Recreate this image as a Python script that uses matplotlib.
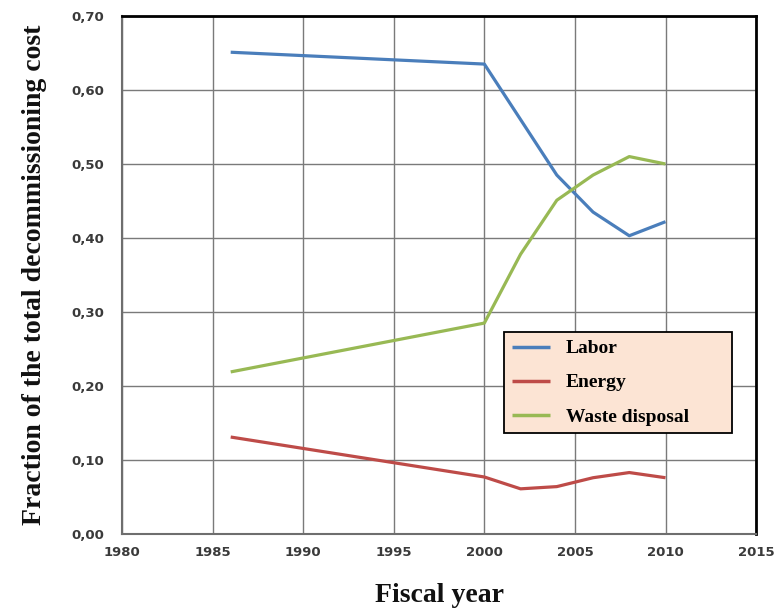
import matplotlib
matplotlib.use("Agg")
import matplotlib.pyplot as plt
from matplotlib.ticker import FuncFormatter, MultipleLocator

years = [1986, 2000, 2002, 2004, 2006, 2008, 2010]
labor = [0.651, 0.635, 0.560, 0.485, 0.435, 0.403, 0.422]
energy = [0.131, 0.077, 0.061, 0.064, 0.076, 0.083, 0.076]
waste = [0.219, 0.285, 0.378, 0.451, 0.485, 0.510, 0.500]
series_names = ["Labor", "Energy", "Waste disposal"]
colors = ["#4A7EBB", "#BE4B48", "#98B954"]

fig = plt.figure(figsize=(7.79, 6.12), dpi=100)
ax = fig.add_axes([0.1566, 0.1275, 0.814, 0.8464])

for vals, name, c in zip([labor, energy, waste], series_names, colors):
    ax.plot(years, vals, color=c, lw=2.3, label=name, solid_capstyle="butt")

ax.set_xlim(1980, 2015)
ax.set_ylim(0, 0.70)
ax.xaxis.set_major_locator(MultipleLocator(5))
ax.yaxis.set_major_locator(MultipleLocator(0.10))
ax.yaxis.set_major_formatter(FuncFormatter(lambda v, p: f"{v:.2f}".replace(".", ",")))
ax.grid(True, color="#7a7a7a", lw=1.0)
ax.set_axisbelow(True)

for s in ["left", "bottom"]:
    ax.spines[s].set_color("#6e6e6e")
    ax.spines[s].set_linewidth(1.5)
for s in ["top", "right"]:
    ax.spines[s].set_color("black")
    ax.spines[s].set_linewidth(2.0)

ax.tick_params(axis="both", length=0, labelsize=9.5, colors="#3a3a3a")
ax.tick_params(axis="y", pad=13)
ax.tick_params(axis="x", pad=9)
for lab in ax.get_xticklabels() + ax.get_yticklabels():
    lab.set_fontweight("bold")
    lab.set_family("DejaVu Sans")

ax.set_ylabel("Fraction of the total decommissioning cost", family="Liberation Serif",
              fontweight="bold", fontsize=20, labelpad=17, color="#111111")
ax.set_xlabel("Fiscal year", family="Liberation Serif", fontweight="bold",
              fontsize=20, labelpad=17, color="#111111")

leg = ax.legend(loc="upper left", bbox_to_anchor=(0.602, 0.19, 0.36, 0.20), mode="expand",
                prop={"family": "Liberation Serif", "weight": "bold", "size": 14},
                frameon=True, fancybox=False, borderpad=0.4, labelspacing=0.85,
                handlelength=2.0, handletextpad=0.8, borderaxespad=0)
frame = leg.get_frame()
frame.set_facecolor("#FCE4D4")
frame.set_edgecolor("black")
frame.set_linewidth(1.3)
frame.set_alpha(1)
for h in leg.get_lines():
    h.set_linewidth(2.5)

fig.savefig("out.png", dpi=100, facecolor="white")
